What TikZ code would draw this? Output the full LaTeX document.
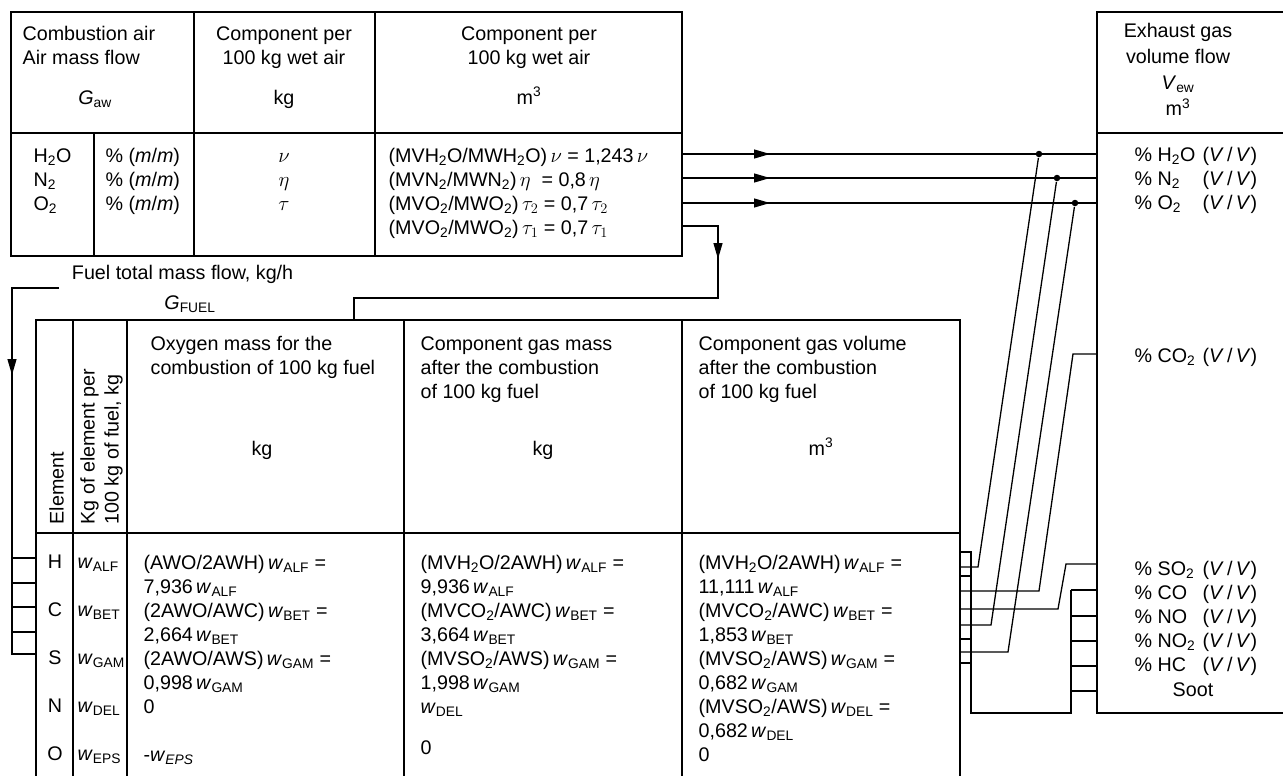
\documentclass[tikz,border=0pt]{standalone}
\usepackage{fontspec}
\setmainfont{Liberation Sans}
\usetikzlibrary{arrows.meta,positioning,calc,decorations.markings}

\newcommand{\wsub}[1]{\textit{w}\textsubscript{#1}}
\newcommand{\ssub}[1]{\textsubscript{#1}}
\newcommand{\vv}{(\textit{V}\,/\,\textit{V})}
\newcommand{\mm}{(\textit{m}/\textit{m})}
\newcommand{\rlab}[1]{\makebox[68pt][l]{#1}}
\newcommand{\topst}{\rule{0pt}{16pt}}

\begin{document}
\begin{tikzpicture}[x=1pt, y=-1pt, line width=1.3pt, >={Triangle[length=16pt,width=9pt]},
	font=\fontsize{19.7}{24}\selectfont,
	flow/.style={postaction={decorate}, decoration={markings, mark=at position #1 with {\arrow{>}}}}]
	\tikzstyle{cell}=[anchor=north west, align=left, inner sep=0pt]
	\tikzstyle{ccell}=[anchor=north, align=center, inner sep=0pt]
	\tikzstyle{joint}=[circle, fill, inner sep=0pt, minimum size=6.5pt]
	\useasboundingbox (0,0) rectangle (1283,776);

	% combustion air table
	\draw (11,12) rectangle (682,256);
	\draw (11,133) -- (682,133);
	\draw (194,12) -- (194,256);
	\draw (375,12) -- (375,256);
	\draw (94,133) -- (94,256);
	\node[cell] (airhd) at (22,24) {\topst Combustion air\\Air mass flow};
	\node[anchor=base] (gaw) at (95,104) {\textit{G}\ssub{aw}};
	\node[ccell] (kghd) at (284,24) {\topst Component per\\100 kg wet air};
	\node[anchor=base] (kgu) at (284,104) {kg};
	\node[ccell] (m3hd) at (529,24) {\topst Component per\\100 kg wet air};
	\node[anchor=base] (m3u) at (529,104) {m\textsuperscript{3}};
	\node[cell] (gases) at (33,146) {\topst H\ssub{2}O\\N\ssub{2}\\O\ssub{2}};
	\node[cell] (pct) at (105,146) {\topst \% \mm\\\% \mm\\\% \mm};
	\node[ccell] (greek) at (284,146) {\topst $\nu$\\$\eta$\\$\tau$};
	\node[cell] (vols) at (388,146) {\topst (MVH\ssub{2}O/MWH\ssub{2}O)\,$\nu$ = 1,243\,$\nu$\\
		(MVN\ssub{2}/MWN\ssub{2})\,$\eta$ \ = 0,8\,$\eta$\\
		(MVO\ssub{2}/MWO\ssub{2})\,$\tau_2$ = 0,7\,$\tau_2$\\
		(MVO\ssub{2}/MWO\ssub{2})\,$\tau_1$ = 0,7\,$\tau_1$};

	% exhaust gas box
	\draw (1283,12) -- (1097,12) -- (1097,713) -- (1283,713);
	\draw (1097,133) -- (1283,133);
	\node[ccell, font=\fontsize{19.7}{26}\selectfont] (exhd) at (1178,21)
		{\topst Exhaust gas\\volume flow\\\textit{V}\ssub{ew}\\m\textsuperscript{3}};
	\node[cell] (exH) at (1134,145) {\topst \rlab{\% H\ssub{2}O}\vv\\\rlab{\% N\ssub{2}}\vv\\\rlab{\% O\ssub{2}}\vv};
	\node[cell] (exC) at (1134,346) {\topst \rlab{\% CO\ssub{2}}\vv};
	\node[cell] (exS) at (1134,559) {\topst \rlab{\% SO\ssub{2}}\vv\\\rlab{\% CO}\vv\\\rlab{\% NO}\vv\\
		\rlab{\% NO\ssub{2}}\vv\\\rlab{\% HC}\vv};
	\node[anchor=base] (soot) at (1193,696) {Soot};

	% fuel table
	\draw (36,776) -- (36,320) -- (960,320) -- (960,776);
	\draw (36,533) -- (960,533);
	\foreach \x in {73,127,404,682}
		\draw (\x,320) -- (\x,776);
	\node[anchor=base west] (fuel) at (68,279) {Fuel total mass flow, kg/h};
	\node[anchor=base] (gfuel) at (190,309) {\textit{G}\ssub{FUEL}};
	\node[cell, rotate=90] (elhd) at (47,525) {\topst Element};
	\node[cell, rotate=90] (kgel) at (78,525) {\topst Kg of element per\\100 kg of fuel, kg};
	\node[cell] (oxhd) at (150,334) {\topst Oxygen mass for the\\combustion of 100 kg fuel};
	\node[anchor=base] (oxu) at (262,455) {kg};
	\node[cell] (mshd) at (420,334) {\topst Component gas mass\\after the combustion\\of 100 kg fuel};
	\node[anchor=base] (msu) at (543,455) {kg};
	\node[cell] (vlhd) at (698,334) {\topst Component gas volume\\after the combustion\\of 100 kg fuel};
	\node[anchor=base] (vlu) at (821,455) {m\textsuperscript{3}};
	\node[ccell] (elem) at (55,552) {\topst H\\[24pt]C\\[24pt]S\\[24pt]N\\[24pt]O};
	\node[cell] (wel) at (77,552) {\topst \wsub{ALF}\\[24pt]\wsub{BET}\\[24pt]\wsub{GAM}\\[24pt]\wsub{DEL}\\[24pt]\wsub{EPS}};
	\node[cell] (oxv) at (143,553) {\topst (AWO/2AWH)\,\wsub{ALF} =\\7,936\,\wsub{ALF}\\
		(2AWO/AWC)\,\wsub{BET} =\\2,664\,\wsub{BET}\\(2AWO/AWS)\,\wsub{GAM} =\\0,998\,\wsub{GAM}\\
		0\\[24pt]-\textit{w}\textsubscript{\textit{EPS}}};
	\node[cell] (msv) at (420,553) {\topst (MVH\ssub{2}O/2AWH)\,\wsub{ALF} =\\9,936\,\wsub{ALF}\\
		(MVCO\ssub{2}/AWC)\,\wsub{BET} =\\3,664\,\wsub{BET}\\(MVSO\ssub{2}/AWS)\,\wsub{GAM} =\\1,998\,\wsub{GAM}\\
		\wsub{DEL}\\[17pt]0};
	\node[cell] (vlv) at (698,553) {\topst (MVH\ssub{2}O/2AWH)\,\wsub{ALF} =\\11,111\,\wsub{ALF}\\
		(MVCO\ssub{2}/AWC)\,\wsub{BET} =\\1,853\,\wsub{BET}\\(MVSO\ssub{2}/AWS)\,\wsub{GAM} =\\0,682\,\wsub{GAM}\\
		(MVSO\ssub{2}/AWS)\,\wsub{DEL} =\\0,682\,\wsub{DEL}\\0};

	% connector end points
	\coordinate (aH) at (682,154);  \coordinate (eH) at (1097,154);
	\coordinate (aN) at (682,178);  \coordinate (eN) at (1097,178);
	\coordinate (aO) at (682,203);  \coordinate (eO) at (1097,203);
	\coordinate (aT) at (682,226);
	\coordinate (tR) at (718,226);  \coordinate (tD) at (718,298);
	\coordinate (tL) at (354,298);  \coordinate (fuelin) at (354,320);
	\coordinate (fA) at (59,288);   \coordinate (fB) at (12,288);
	\coordinate (fC) at (12,654);   \coordinate (fD) at (36,654);
	\node[joint] (jH) at (1039,154) {};
	\node[joint] (jN) at (1057,178) {};
	\node[joint] (jO) at (1075,203) {};

	% air flows to exhaust gas
	\draw[flow=88pt] (aH) -- (eH);
	\draw[flow=88pt] (aN) -- (eN);
	\draw[flow=88pt] (aO) -- (eO);
	\draw[flow=69pt] (aT) -- (tR) -- (tD) -- (tL) -- (fuelin);
	\draw[flow=134pt] (fA) -- (fB) -- (fC) -- (fD);
	\foreach \y in {558,583,607,632}
		\draw (12,\y) -- (36,\y);

	% gas volumes to exhaust gas
	\coordinate (kH) at (978,567);  \coordinate (gH) at (960,567);
	\coordinate (kN) at (991,625);  \coordinate (gN) at (960,625);
	\coordinate (kO) at (1008,652); \coordinate (gO) at (960,652);
	\draw (jH) -- (kH) -- (gH);
	\draw (jN) -- (kN) -- (gN);
	\draw (jO) -- (kO) -- (gO);
	\coordinate (eC) at (1097,354); \coordinate (cA) at (1073,354);
	\coordinate (cB) at (1039,591); \coordinate (gC) at (960,591);
	\draw (eC) -- (cA) -- (cB) -- (gC);
	\coordinate (eS) at (1097,564); \coordinate (sA) at (1066,564);
	\coordinate (sB) at (1058,609); \coordinate (gS) at (960,609);
	\draw (eS) -- (sA) -- (sB) -- (gS);
	\draw (960,552) -- (971,552) -- (971,713) -- (1071,713) -- (1071,590);
	\foreach \y in {576,639,663}
		\draw (960,\y) -- (971,\y);
	\foreach \y in {590,616,641,666,691}
		\draw (1071,\y) -- (1097,\y);
\end{tikzpicture}
\end{document}
